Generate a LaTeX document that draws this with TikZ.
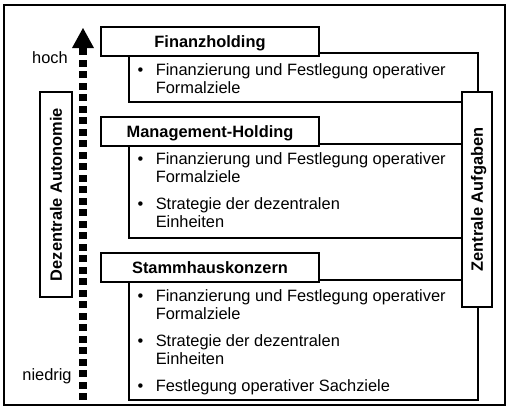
\documentclass[tikz,border=0pt]{standalone}
\usepackage{fontspec}
\setmainfont{Liberation Sans}
\begin{document}
\begin{tikzpicture}[x=1pt,y=-1pt,line width=1.5pt,
  every node/.style={font=\fontsize{16.4}{18}\selectfont},
  bodybox/.style={draw,inner sep=0pt,anchor=north west},
  headbox/.style={draw,fill=white,minimum width=218pt,minimum height=29pt,inner sep=0pt,
    text height=11.7pt,text depth=0pt,font=\fontsize{16.4}{18}\selectfont\bfseries},
  vbox/.style={draw,fill=white,rotate=90,inner sep=0pt,text height=11.7pt,text depth=0pt,
    font=\fontsize{16.4}{18}\selectfont\bfseries},
  txt/.style={anchor=base west,inner sep=0pt},
  bul/.style={anchor=base,inner sep=0pt},
  lbl/.style={anchor=base,inner sep=0pt}]
\useasboundingbox (0,0) rectangle (508,408);
\draw (4,5) rectangle (505,405);
% bodies
\node[bodybox,minimum width=349pt,minimum height=49pt] (fb) at (128,52) {};
\node[bodybox,minimum width=334pt,minimum height=94pt] (mb) at (128,143) {};
\node[bodybox,minimum width=349pt,minimum height=120pt] (sb) at (128,279) {};
% headers
\node[headbox] (fh) at (210,41.5) {Finanzholding};
\node[headbox] (mh) at (210,131.5) {Management-Holding};
\node[headbox] (sh) at (210,267.5) {Stammhauskonzern};
% side boxes
\node[vbox,minimum width=215pt,minimum height=30pt] (za) at (477,199.5) {Zentrale Aufgaben};
\node[vbox,minimum width=205pt,minimum height=32pt] (da) at (56,194.5) {Dezentrale Autonomie};
% arrow
\coordinate (alo) at (83,400);
\coordinate (abase) at (83,47);
\coordinate (atip) at (83,28);
\draw[line width=7.5pt,dash pattern=on 7pt off 4.5pt] (alo) -- (abase);
\fill (atip) -- ++(-11,20) -- ++(22,0) -- cycle;
\node[lbl] (hoch) at (50,63) {hoch};
\node[lbl] (niedrig) at (47,380) {niedrig};
% Finanzholding texts
\node[bul] (fb1) at (140.5,75) {•};
\node[txt] (ft1) at (155,75) {Finanzierung und Festlegung operativer};
\node[txt] (ft2) at (155,93) {Formalziele};
% Management texts
\node[bul] (mb1) at (140.5,164) {•};
\node[txt] (mt1) at (155,164) {Finanzierung und Festlegung operativer};
\node[txt] (mt2) at (155,182) {Formalziele};
\node[bul] (mb2) at (140.5,209) {•};
\node[txt] (mt3) at (155,209) {Strategie der dezentralen};
\node[txt] (mt4) at (155,227) {Einheiten};
% Stammhaus texts
\node[bul] (sb1) at (140.5,301) {•};
\node[txt] (st1) at (155,301) {Finanzierung und Festlegung operativer};
\node[txt] (st2) at (155,319) {Formalziele};
\node[bul] (sb2) at (140.5,346) {•};
\node[txt] (st3) at (155,346) {Strategie der dezentralen};
\node[txt] (st4) at (155,364) {Einheiten};
\node[bul] (sb3) at (140.5,391) {•};
\node[txt] (st5) at (155,391) {Festlegung operativer Sachziele};
\end{tikzpicture}
\end{document}
